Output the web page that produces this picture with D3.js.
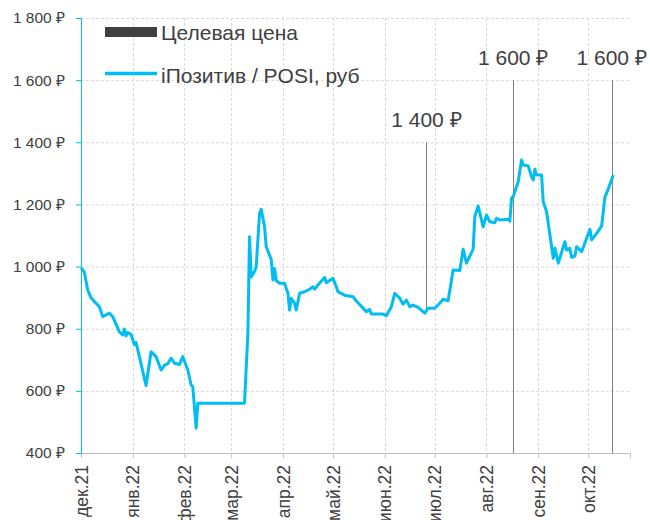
<!DOCTYPE html>
<html>
<head>
<meta charset="utf-8">
<script src="https://cdn.jsdelivr.net/npm/d3@7"></script>
<style>
  body { margin: 0; background: #fff; }
  text { font-family: "Liberation Sans", Arial, sans-serif; fill: #404040; }
</style>
</head>
<body>
<div id="chart"></div>
<script>
/* iПозитив / POSI price vs target prices */

const priceDates = [
    "2021-12-01","2021-12-03","2021-12-05","2021-12-07","2021-12-10","2021-12-12","2021-12-14","2021-12-18",
    "2021-12-20","2021-12-24","2021-12-26","2021-12-27","2021-12-28","2021-12-29","2021-12-31","2022-01-02",
    "2022-01-03","2022-01-09","2022-01-12","2022-01-15","2022-01-18","2022-01-20","2022-01-22","2022-01-24",
    "2022-01-26","2022-01-29","2022-01-31","2022-02-03","2022-02-05","2022-02-06","2022-02-08","2022-02-09",
    "2022-03-09","2022-03-11","2022-03-12","2022-03-13","2022-03-15","2022-03-16","2022-03-18","2022-03-19",
    "2022-03-21","2022-03-22","2022-03-25","2022-03-26","2022-03-27","2022-03-28","2022-03-30","2022-04-02",
    "2022-04-04","2022-04-05","2022-04-06","2022-04-08","2022-04-09","2022-04-11","2022-04-14","2022-04-17",
    "2022-04-19","2022-04-20","2022-04-22","2022-04-26","2022-04-27","2022-05-01","2022-05-03","2022-05-04",
    "2022-05-08","2022-05-13","2022-05-15","2022-05-21","2022-05-23","2022-05-24","2022-05-31","2022-06-02",
    "2022-06-05","2022-06-07","2022-06-10","2022-06-12","2022-06-14","2022-06-16","2022-06-18","2022-06-21",
    "2022-06-25","2022-06-27","2022-07-01","2022-07-04","2022-07-06","2022-07-09","2022-07-12","2022-07-16",
    "2022-07-18","2022-07-20","2022-07-24","2022-07-25","2022-07-27","2022-07-30","2022-08-01","2022-08-03",
    "2022-08-06","2022-08-07","2022-08-09","2022-08-14","2022-08-15","2022-08-16","2022-08-17","2022-08-20",
    "2022-08-22","2022-08-23","2022-08-26","2022-08-28","2022-08-29","2022-08-30","2022-08-31","2022-09-03",
    "2022-09-04","2022-09-06","2022-09-08","2022-09-10","2022-09-11","2022-09-13","2022-09-17","2022-09-18",
    "2022-09-20","2022-09-21","2022-09-23","2022-09-24","2022-09-27","2022-10-02","2022-10-03","2022-10-06",
    "2022-10-09","2022-10-11","2022-10-12","2022-10-16"
];
const priceValues = [
    996, 982, 925, 900, 882, 871, 839, 850,
    839, 790, 780, 799, 777, 788, 782, 748,
    756, 617, 726, 710, 667, 683, 687, 705,
    689, 685, 710, 667, 619, 613, 480, 560,
    560, 785, 1096, 967, 984, 1000, 1171, 1184,
    1128, 1064, 1023, 957, 994, 955, 946, 946,
    914, 860, 898, 882, 860, 914, 919, 927,
    935, 927, 941, 965, 948, 962, 935, 919,
    908, 903, 889, 855, 862, 847, 847, 842,
    871, 914, 898, 879, 892, 871, 876, 869,
    850, 866, 866, 882, 895, 890, 989, 987,
    1056, 1011, 1056, 1161, 1195, 1128, 1166, 1144,
    1141, 1155, 1150, 1152, 1146, 1220, 1225, 1273,
    1343, 1327, 1324, 1289, 1279, 1313, 1295, 1295,
    1209, 1177, 1102, 1027, 1059, 1011, 1080, 1053,
    1059, 1030, 1034, 1064, 1048, 1120, 1086, 1107,
    1131, 1225, 1236, 1295
];

const targetDates = ["2022-06-26", "2022-08-17", "2022-10-15"];
const targetValues = [1400, 1600, 1600];
const targetLow = [866, 400, 400]; // where each target line stops

const monthLabels = ["дек.21","янв.22","фев.22","мар.22","апр.22","май.22",
                     "июн.22","июл.22","авг.22","сен.22","окт.22"];
const yTicks = [400, 600, 800, 1000, 1200, 1400, 1600, 1800];

const parse = d3.timeParse("%Y-%m-%d");
const price = priceDates.map((d, i) => ({ date: parse(d), value: priceValues[i] }));
const targets = targetDates.map((d, i) => ({ date: parse(d), value: targetValues[i], low: targetLow[i] }));

const width = 650,
      height = 520,
      margin = ({ top: 18, right: 20, bottom: 67, left: 81 });

const blue = "#00bdf2";

const rub = d3.formatLocale({ decimal: ",", thousands: " ", grouping: [3], currency: ["", " ₽"] });
const fmt = v => rub.format(",")(v) + " ₽";

let svg = d3.select("#chart")
    .append("svg")
    .attr("width", width)
    .attr("height", height);

let x = d3.scaleTime()
    .domain([parse("2021-12-01"), parse("2022-10-26")])
    .range([margin.left, width - margin.right]);

let y = d3.scaleLinear()
    .domain([400, 1800])
    .range([height - margin.bottom, margin.top]);

const months = d3.timeMonth.range(parse("2021-12-01"), parse("2022-10-02"));

// grid
svg.append("g")
    .selectAll("line")
    .data(yTicks.slice(1))
    .join("line")
    .attr("x1", margin.left)
    .attr("x2", width - margin.right)
    .attr("y1", d => y(d) + 0.5)
    .attr("y2", d => y(d) + 0.5)
    .attr("stroke", "#d9d9d9")
    .attr("stroke-dasharray", "3,2");

svg.append("g")
    .selectAll("line")
    .data(months.slice(1))
    .join("line")
    .attr("x1", d => Math.round(x(d)) + 0.5)
    .attr("x2", d => Math.round(x(d)) + 0.5)
    .attr("y1", margin.top)
    .attr("y2", height - margin.bottom)
    .attr("stroke", "#d9d9d9")
    .attr("stroke-dasharray", "3,2");

// x axis
let xAxis = svg.append("g")
    .attr("transform", `translate(0,${height - margin.bottom})`)
    .call(d3.axisBottom(x)
        .tickValues(months)
        .tickSize(5)
        .tickFormat((d, i) => monthLabels[i]));
xAxis.select(".domain").attr("stroke", "#bfbfbf");
xAxis.selectAll(".tick line").attr("stroke", "#bfbfbf");
xAxis.selectAll(".tick text")
    .attr("transform", "rotate(-90)")
    .attr("text-anchor", "end")
    .attr("x", -12)
    .attr("y", 0)
    .attr("dy", "0.35em")
    .style("font-size", "17.5px")
    .style("font-family", "Liberation Sans, Arial, sans-serif")
    .attr("fill", "#404040");

// y axis
let yAxis = svg.append("g")
    .attr("transform", `translate(${margin.left},0)`)
    .call(d3.axisLeft(y)
        .tickValues(yTicks)
        .tickSize(5)
        .tickPadding(11)
        .tickFormat(fmt));
yAxis.select(".domain").attr("stroke", blue);
yAxis.selectAll(".tick line").attr("stroke", blue);
yAxis.selectAll(".tick text")
    .style("font-size", "15.5px")
    .style("font-family", "Liberation Sans, Arial, sans-serif")
    .attr("fill", "#404040");

// target lines
let tg = svg.append("g");
tg.selectAll("line")
    .data(targets)
    .join("line")
    .attr("x1", d => Math.round(x(d.date)) + 0.5)
    .attr("x2", d => Math.round(x(d.date)) + 0.5)
    .attr("y1", d => y(d.value))
    .attr("y2", d => y(d.low))
    .attr("stroke", "#7f7f7f")
    .attr("stroke-width", 1);

tg.selectAll("text")
    .data(targets)
    .join("text")
    .attr("x", d => x(d.date))
    .attr("y", d => y(d.value) - 15)
    .attr("text-anchor", "middle")
    .style("font-size", "21px")
    .text(d => fmt(d.value));

// price line
svg.append("path")
    .datum(price)
    .attr("fill", "none")
    .attr("stroke", blue)
    .attr("stroke-width", 3)
    .attr("stroke-linejoin", "round")
    .attr("d", d3.line().x(d => x(d.date)).y(d => y(d.value)));

// legend
let legend = svg.append("g");
legend.append("rect")
    .attr("x", 105).attr("y", 27)
    .attr("width", 52).attr("height", 10)
    .attr("fill", "#404040");
legend.append("text")
    .attr("x", 161).attr("y", 40)
    .style("font-size", "21px")
    .text("Целевая цена");
legend.append("line")
    .attr("x1", 105).attr("x2", 157)
    .attr("y1", 73.5).attr("y2", 73.5)
    .attr("stroke", blue)
    .attr("stroke-width", 3.5);
legend.append("text")
    .attr("x", 161).attr("y", 83)
    .style("font-size", "21px")
    .text("iПозитив / POSI, руб");
</script>
</body>
</html>
